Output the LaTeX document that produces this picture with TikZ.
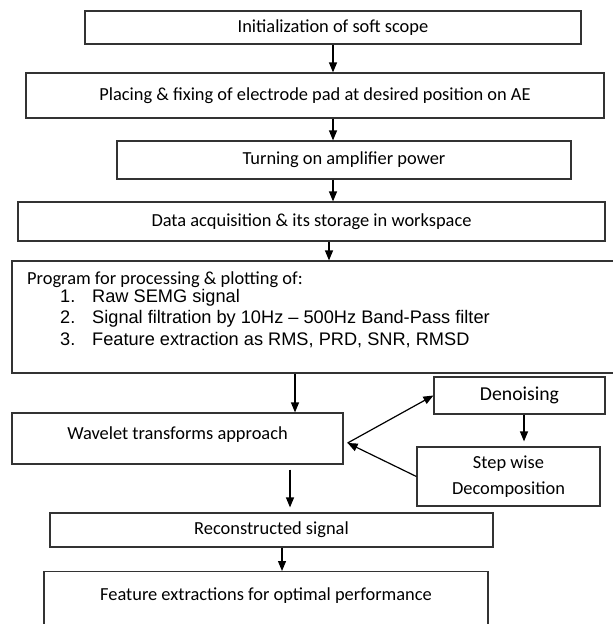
\documentclass[tikz,border=0pt]{standalone}
\usepackage{fontspec}
\setmainfont{Carlito}
\newfontfamily\arialfont{Liberation Sans}
\usepackage{tikz}
\usetikzlibrary{arrows.meta,positioning}

\tikzset{
    box/.style={draw=black!80, line width=1.2pt, inner sep=0pt, font=\fontsize{18.4}{26}\selectfont},
    flow/.style={-{Triangle[length=10pt,width=8pt]}, line width=1.2pt},
    listtext/.style={anchor=base west, inner sep=0pt, font=\arialfont\fontsize{18.2}{22}\selectfont},
}

\begin{document}
\begin{tikzpicture}[x=1pt,y=-1pt]
    \useasboundingbox (0,0) rectangle (613,624);
    \clip (0,0) rectangle (613,624);

    % the steps, top to bottom
    \node[box, minimum width=496, minimum height=33] (init) at (333,27.5) {Initialization of soft scope};
    \node[box, minimum width=578, minimum height=45] (place) at (315,95.5) {Placing \& fixing of electrode pad at desired position on AE};
    \node[box, minimum width=454, minimum height=38] (amp) at (344,160) {Turning on amplifier power};
    \node[box, minimum width=587, minimum height=39] (data) at (311.5,221.5) {Data acquisition \& its storage in workspace};

    % program box, runs off the right edge
    \node[box, minimum width=640, minimum height=112] (prog) at (332,317) {};
    \node[listtext, font=\fontsize{18.4}{22}\selectfont] (proghead) at (27,284) {Program for processing \& plotting of:};
    \foreach \i/\t in {1/Raw SEMG signal, 2/Signal filtration by 10Hz – 500Hz Band-Pass filter, 3/{Feature extraction as RMS, PRD, SNR, RMSD}} {
        \node[listtext] (num\i) at (60,280.5+21.5*\i) {\i.};
        \node[listtext] (item\i) at (92,280.5+21.5*\i) {\t};
    }

    \node[box, minimum width=331, minimum height=51, text depth=10pt] (wt) at (177.5,438.5) {Wavelet transforms approach};
    \node[box, minimum width=171, minimum height=37, font=\fontsize{19.7}{24}\selectfont] (den) at (519.5,395.5) {Denoising};
    \node[box, minimum width=183, minimum height=59, align=center] (st) at (508.5,476.5) {Step wise\\Decomposition};
    \node[box, minimum width=443, minimum height=34] (rec) at (271.5,530) {Reconstructed signal};
    % last box is cut by the bottom edge
    \node[box, anchor=north, minimum width=444, text height=14pt, text depth=50pt, inner ysep=15pt] (feat) at (266,571) {Feature extractions for optimal performance};

    % arrows down the column
    \draw[flow] (init.south) -- (init.south |- place.north);
    \draw[flow] (init.south |- place.south) -- (init.south |- amp.north);
    \draw[flow] (init.south |- amp.south) -- (init.south |- data.north);
    \draw[flow] ([xshift=17.5]data.south) -- ([xshift=17.5]data.south |- prog.north);
    \draw[flow] ([xshift=117.5]wt.north |- prog.south) -- ([xshift=117.5]wt.north);

    % loop through denoising
    \coordinate (wtin) at ([xshift=4,yshift=-4.5]wt.east);
    \draw[flow] (wtin) -- (den.west);
    \draw[flow, shorten >=5pt] ([xshift=4.5]den.south) -- ([xshift=4.5]den.south |- st.north);
    \draw[flow] (st.west) -- (wtin);

    % on to the end
    \draw[flow, shorten <=5pt, shorten >=5pt] ([xshift=112.5]wt.south) -- ([xshift=112.5]wt.south |- rec.north);
    \draw[flow] ([xshift=10.5]rec.south) -- ([xshift=10.5]rec.south |- feat.north);
\end{tikzpicture}
\end{document}
